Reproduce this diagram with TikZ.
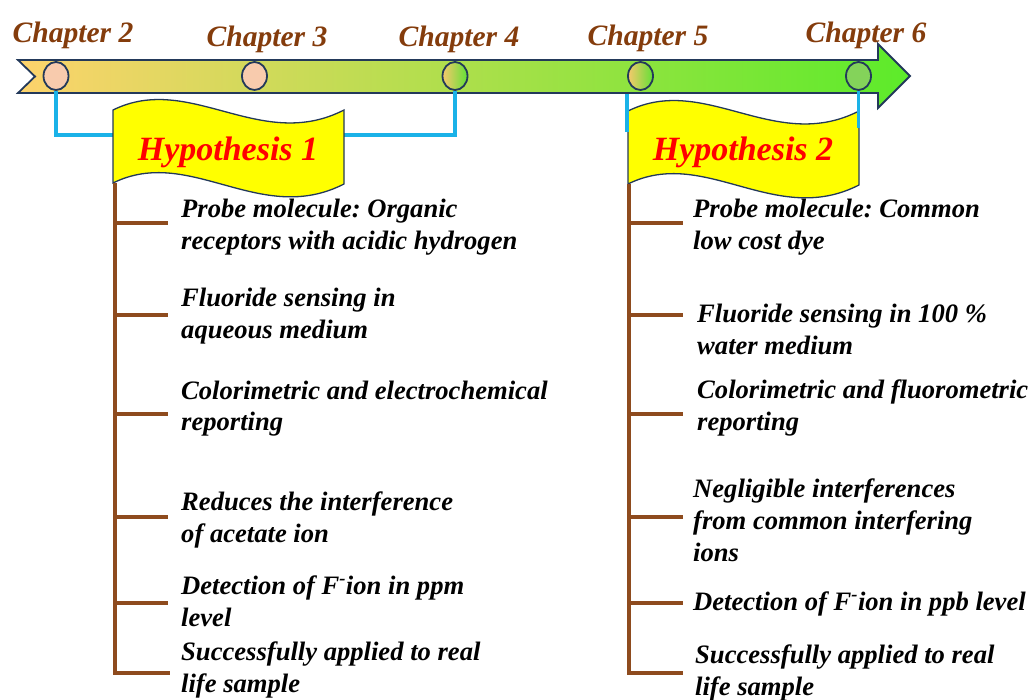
\documentclass[tikz,border=0pt]{standalone}
\usepackage{fontspec}
\setmainfont{Liberation Serif}
\usetikzlibrary{shapes.geometric}
\frenchspacing
\definecolor{navy}{HTML}{23395A}
\definecolor{chapbrown}{HTML}{843C0C}
\definecolor{polebrown}{HTML}{8E4B1E}
\definecolor{cyanline}{HTML}{1AB2E8}
\definecolor{arrL}{HTML}{FDD36C}
\definecolor{arrM}{HTML}{C9E14E}
\definecolor{arrR}{HTML}{5CEB2A}
\definecolor{peach}{HTML}{F8CBAD}
\definecolor{dotL}{HTML}{F6C86C}
\definecolor{dotR}{HTML}{62E036}
\definecolor{dotG}{HTML}{84D35A}
\definecolor{flagyellow}{HTML}{FFFF00}
\begin{document}
\begin{tikzpicture}[x=1pt,y=-1pt,
  chapcirc/.style={ellipse,draw=navy,line width=1.8pt,minimum width=25pt,minimum height=28pt,inner sep=0pt},
  chaplabel/.style={anchor=base,inner sep=0pt,text=chapbrown,font=\fontsize{29.6}{32}\selectfont\bfseries\itshape},
  hyp/.style={anchor=base,inner sep=0pt,text=red,font=\fontsize{34}{38}\selectfont\bfseries\itshape},
  item/.style={anchor=base west,inner sep=0pt,align=left,font=\fontsize{26.6}{32}\selectfont\bfseries\itshape},
  flagshape/.style={fill=flagyellow,draw=navy,line width=1.3pt},
  blueline/.style={draw=cyanline,line width=3.2pt},
  pole/.style={draw=polebrown,line width=3.2pt}]
\useasboundingbox (0,0) rectangle (1028,700);

% timeline arrow
\path[draw=navy,line width=1.8pt,left color=arrL,middle color=arrM,right color=arrR]
  (18,60) -- (878,60) -- (878,44) -- (910,76) -- (878,108) -- (878,93) -- (18,93) -- (35,76.5) -- cycle;

% chapter markers
\node[chapcirc,fill=peach] (c2) at (56,76) {};
\node[chapcirc,fill=peach] (c3) at (254.5,76) {};
\node[chapcirc,left color=dotL,right color=dotR] (c4) at (455,76) {};
\node[chapcirc,left color=dotL,right color=dotR] (c5) at (640.5,76) {};
\node[chapcirc,fill=dotG] (c6) at (858.5,76) {};

% chapter labels
\node[chaplabel] (l2) at (73,43) {Chapter 2};
\node[chaplabel] (l3) at (267,47) {Chapter 3};
\node[chaplabel] (l4) at (459,47) {Chapter 4};
\node[chaplabel] (l5) at (648,46) {Chapter 5};
\node[chaplabel] (l6) at (866,43) {Chapter 6};

% connectors to flag 1
\coordinate (b1) at (113,135);
\coordinate (b2) at (344,135);
\draw[blueline] (c2.south) |- (b1);
\draw[blueline] (c4.south) |- (b2);

% flag 1
\path[flagshape] (113,110) .. controls (190,72) and (260,153) .. (344,110) -- (344,184)
  .. controls (260,227) and (190,145) .. (113,183) -- cycle;
\node[hyp] (h1) at (228,161) {Hypothesis 1};

% flag 2
\begin{scope}[shift={(515,1)}]
\path[flagshape] (113,110) .. controls (190,72) and (260,153) .. (344,110) -- (344,184)
  .. controls (260,227) and (190,145) .. (113,183) -- cycle;
\end{scope}
\node[hyp] (h2) at (743,161) {Hypothesis 2};

% connectors to flag 2
\coordinate (b3t) at (627,94);
\coordinate (b3b) at (627,132);
\coordinate (b4b) at (858.5,128);
\draw[blueline] (b3t) -- (b3b);
\draw[blueline] (c6.south) -- (b4b);

% left pole
\coordinate (p1t) at (115,183);
\coordinate (p1b) at (115,673);
\coordinate (p1e) at (170,673);
\draw[pole] (p1t) -- (p1b) -- (p1e);
\foreach \yy/\nm in {223/a,315/b,414/c,517/d,603/e}{
  \coordinate (p1\nm s) at (115,\yy);
  \coordinate (p1\nm e) at (168,\yy);
  \draw[pole] (p1\nm s) -- (p1\nm e);
}

% right pole
\coordinate (p2t) at (629,184);
\coordinate (p2b) at (629,673);
\coordinate (p2e) at (683,673);
\draw[pole] (p2t) -- (p2b) -- (p2e);
\foreach \yy/\nm in {223/a,315/b,414/c,517/d,603/e}{
  \coordinate (p2\nm s) at (629,\yy);
  \coordinate (p2\nm e) at (683,\yy);
  \draw[pole] (p2\nm s) -- (p2\nm e);
}

% left items (anchored at the baseline of the last line)
\node[item] (t1) at (181,250) {Probe molecule: Organic\\receptors with acidic hydrogen};
\node[item] (t2) at (181,339) {Fluoride sensing in\\aqueous medium};
\node[item] (t3) at (181,431) {Colorimetric and electrochemical\\reporting};
\node[item] (t4) at (181,542) {Reduces the interference\\of acetate ion};
\node[item] (t5) at (181,626) {Detection of F\textsuperscript{-}ion in ppm\\level};
\node[item] (t6) at (181,692) {Successfully applied to real\\life sample};

% right items
\node[item] (r1) at (693,250) {Probe molecule: Common\\low cost dye};
\node[item] (r2) at (697,355) {Fluoride sensing in 100 \%\\water medium};
\node[item] (r3) at (697,430) {Colorimetric and fluorometric\\reporting};
\node[item] (r4) at (693,561) {Negligible interferences\\from common interfering\\ions};
\node[item] (r5) at (693,610) {Detection of F\textsuperscript{-}ion in ppb level};
\node[item] (r6) at (695,695) {Successfully applied to real\\life sample};
\end{tikzpicture}
\end{document}
